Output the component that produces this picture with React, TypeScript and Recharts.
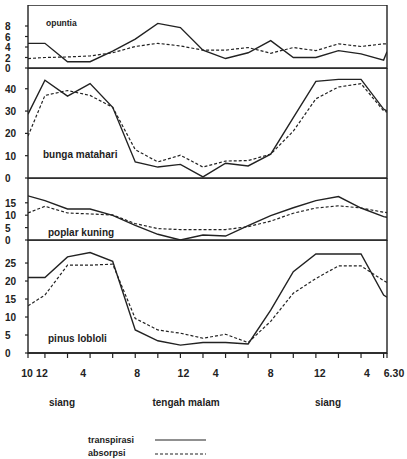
import { LineChart, Line, XAxis, YAxis, ReferenceArea } from 'recharts';

// hours since midnight of day 1 (10.5 = 10.30, 24 = midnight, 42.3 = end of record)
const hours = [10.5, 12, 14, 16, 18, 20, 22, 24, 26, 28, 30, 32, 34, 36, 38, 40, 42, 42.3];

const opuntiaTranspirasi = [4.7, 4.7, 1.2, 1.2, 3.2, 5.5, 8.5, 7.7, 3.4, 1.8, 2.9, 5.2, 2.0, 2.0, 3.3, 2.7, 1.5, 3.1];
const opuntiaAbsorpsi = [1.8, 2.0, 2.1, 2.3, 2.9, 4.1, 4.7, 4.2, 3.4, 3.4, 3.9, 2.8, 3.9, 3.3, 4.6, 4.1, 4.6, 4.6];

const bungaTranspirasi = [28.6, 43.8, 36.7, 42.3, 31.7, 7.2, 4.9, 6.1, 0.5, 6.6, 5.4, 10.7, 27.1, 43.3, 44.2, 44.2, 30.9, 30];
const bungaAbsorpsi = [18.8, 37, 39.2, 37, 31.7, 12.7, 7.2, 10.2, 4.9, 7.6, 7.8, 10.7, 21, 35.5, 40.8, 42.3, 30.1, 29.5];

const poplarTranspirasi = [17.8, 15.9, 12.5, 12.5, 9.9, 5.9, 2.3, 0, 2.0, 1.6, 5.8, 9.8, 13.0, 15.9, 17.5, 12.9, 9.4, 9.2];
const poplarAbsorpsi = [10.9, 13.6, 10.9, 10.5, 10.1, 6.6, 4.6, 4.2, 4.2, 4.2, 5.4, 7.6, 10.8, 12.9, 13.8, 12.9, 11.2, 11.0];

const pinusTranspirasi = [21.0, 21.0, 26.7, 27.9, 25.5, 6.4, 3.4, 2.2, 2.9, 2.9, 2.5, 11.9, 22.6, 27.5, 27.5, 27.5, 16.1, 15.5];
const pinusAbsorpsi = [13.1, 16.1, 24.4, 24.4, 24.7, 9.6, 6.4, 5.5, 4.1, 5.2, 2.9, 8.8, 16.6, 20.7, 24.2, 24.2, 20.1, 19.6];

const xTicks = [10.5, 12, 14, 16, 18, 20, 22, 24, 26, 28, 30, 32, 34, 36, 38, 40, 42, 42.3];
const xTickLabels: Record<string, string> = {
  '10.5': '10', '12': '12', '16': '4', '20': '8', '24': '12',
  '28': '4', '32': '8', '36': '12', '40': '4', '42.3': '6.30',
};
// hand lettering in the original sits a little off the tick marks
const labelShift: Record<string, number> = {
  '10.5': -1, '12': -3, '16': -7, '20': 2, '24': 3, '28': -10, '36': 4, '40': 6, '42.3': 7,
};

const INK = '#222';
const FONT = '"Liberation Sans", Arial, sans-serif';
const X_DOMAIN: [number, number] = [10.5, 42.3];
const PAD = 8; // room under each panel for its "0" label

const rows = (tr: number[], ab: number[]) => hours.map((t, i) => ({ t, tr: tr[i], ab: ab[i] }));

const panels = [
  { key: 'opuntia', tr: opuntiaTranspirasi, ab: opuntiaAbsorpsi, yMax: 12, yTicks: [0, 2, 4, 6, 8], top: 5, height: 63 },
  { key: 'bunga', tr: bungaTranspirasi, ab: bungaAbsorpsi, yMax: 49.3, yTicks: [0, 10, 20, 30, 40], top: 68, height: 110 },
  { key: 'poplar', tr: poplarTranspirasi, ab: poplarAbsorpsi, yMax: 25, yTicks: [0, 5, 10, 15], top: 178, height: 62 },
  { key: 'pinus', tr: pinusTranspirasi, ab: pinusAbsorpsi, yMax: 31.4, yTicks: [0, 5, 10, 15, 20, 25], top: 240, height: 113 },
];

const YTick = (props: any) => {
  const { y, payload } = props;
  return (
    <text x={5} y={y} dy={4} textAnchor="start" fontSize={10} fontWeight="bold" fontFamily={FONT} fill={INK}>
      {payload.value}
    </text>
  );
};

const XTick = (props: any) => {
  const { x, y, payload } = props;
  const key = String(payload.value);
  const label = xTickLabels[key];
  if (!label) return <g />;
  return (
    <text x={x + (labelShift[key] ?? 0)} y={y + 17} textAnchor="middle" fontSize={10.5} fontWeight="bold" fontFamily={FONT} fill={INK}>
      {label}
    </text>
  );
};

function Panel({ p, last }: { p: (typeof panels)[number]; last: boolean }) {
  const bottom = last ? 0 : PAD;
  const h = p.height + (last ? 30 : PAD);
  return (
    <div style={{ position: 'absolute', left: 0, top: p.top }}>
      <LineChart width={407} height={h} data={rows(p.tr, p.ab)} margin={{ top: 0, right: 20, bottom, left: 0 }}>
        <XAxis
          dataKey="t"
          type="number"
          domain={X_DOMAIN}
          ticks={xTicks}
          interval={0}
          hide={!last}
          height={30}
          tick={<XTick />}
          tickSize={5}
          axisLine={{ stroke: INK, strokeWidth: 1.4 }}
          tickLine={{ stroke: INK, strokeWidth: 1.2 }}
          allowDataOverflow
        />
        <YAxis
          type="number"
          domain={[0, p.yMax]}
          ticks={p.yTicks}
          interval={0}
          width={28}
          tick={<YTick />}
          tickSize={3}
          axisLine={false}
          tickLine={{ stroke: INK, strokeWidth: 1.2 }}
          allowDataOverflow
        />
        <ReferenceArea x1={X_DOMAIN[0]} x2={X_DOMAIN[1]} y1={0} y2={p.yMax} fill="none" stroke={INK} strokeWidth={1.4} ifOverflow="visible" />
        <Line type="linear" dataKey="tr" stroke={INK} strokeWidth={1.4} dot={false} isAnimationActive={false} />
        <Line type="linear" dataKey="ab" stroke={INK} strokeWidth={1.2} strokeDasharray="3 2" dot={false} isAnimationActive={false} />
      </LineChart>
    </div>
  );
}

const txt = { fontFamily: FONT, fontWeight: 'bold' as const, fill: INK };

export default function App() {
  return (
    <div style={{ position: 'absolute', left: 0, top: 0, width: 407, height: 459, background: '#fff', overflow: 'hidden' }}>
      {panels.map((p, i) => (
        <Panel key={p.key} p={p} last={i === panels.length - 1} />
      ))}
      <svg width={407} height={459} style={{ position: 'absolute', left: 0, top: 0, pointerEvents: 'none' }}>
        <text x={46} y={26} fontSize={8.5} {...txt}>opuntia</text>
        <text x={43} y={158} fontSize={10} {...txt}>bunga matahari</text>
        <text x={48} y={236} fontSize={10} {...txt}>poplar kuning</text>
        <text x={48} y={342} fontSize={10} {...txt}>pinus lobloli</text>
        <text x={62} y={406} fontSize={10} textAnchor="middle" {...txt}>siang</text>
        <text x={186} y={406} fontSize={10} textAnchor="middle" {...txt}>tengah malam</text>
        <text x={328} y={406} fontSize={10} textAnchor="middle" {...txt}>siang</text>
        <text x={88} y={443} fontSize={9} {...txt}>transpirasi</text>
        <line x1={155} x2={206} y1={440} y2={440} stroke={INK} strokeWidth={1.2} />
        <text x={88} y={456} fontSize={9} {...txt}>absorpsi</text>
        <line x1={155} x2={206} y1={454} y2={454} stroke={INK} strokeWidth={1.2} strokeDasharray="3 2" />
      </svg>
    </div>
  );
}
